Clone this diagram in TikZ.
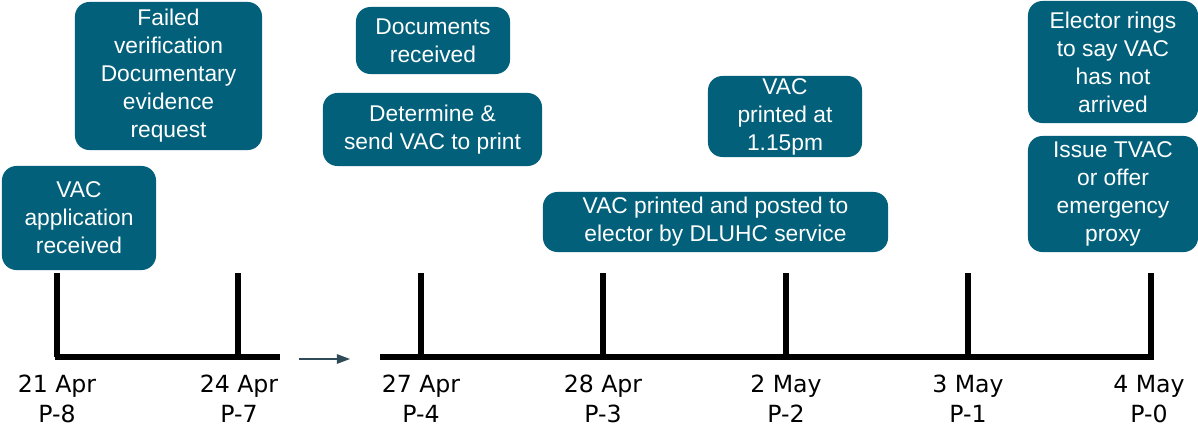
\documentclass[tikz,border=0pt]{standalone}
\usepackage{fontspec}
\usepackage{xcolor}
\setmainfont{Liberation Sans}
\newfontfamily\datefont{DejaVu Sans}
\usetikzlibrary{arrows.meta,positioning,calc}
\definecolor{vacteal}{HTML}{02607A}
\definecolor{arrowslate}{HTML}{2F4B58}

\begin{document}
\begin{tikzpicture}[x=0.025cm, y=-0.025cm,
    evbox/.style={rectangle, fill=vacteal, rounded corners=0.36cm, text=white, align=center,
      font=\fontsize{16.2}{19.9}\selectfont, inner sep=0pt},
    datelbl/.style={align=center, inner sep=0pt, font=\datefont\fontsize{16.8}{21.3}\selectfont},
    tline/.style={line width=0.13cm, line cap=butt}]

    \useasboundingbox (0,0) rectangle (1198,428);

    \node[evbox, minimum width=3.85cm, minimum height=2.6cm] (e1) at (79,218) {VAC\\application\\received};
    \node[evbox, minimum width=4.675cm, minimum height=3.7cm] (e2) at (168.5,76) {Failed\\verification\\Documentary\\evidence\\request};
    \node[evbox, minimum width=3.85cm, minimum height=1.675cm] (e3) at (433,40.5) {Documents\\received};
    \node[evbox, minimum width=5.475cm, minimum height=1.825cm] (e4) at (432.5,129.5) {Determine \&\\send VAC to print};
    \node[evbox, minimum width=3.85cm, minimum height=2.025cm] (e5) at (785,116.5) {VAC\\printed at\\1.15pm};
    \node[evbox, minimum width=8.625cm, minimum height=1.5cm] (e6) at (715.5,222) {VAC printed and posted to\\elector by DLUHC service};
    \node[evbox, minimum width=4.25cm, minimum height=3.05cm] (e7) at (1113,62) {Elector rings\\to say VAC\\has not\\arrived};
    \node[evbox, minimum width=4.25cm, minimum height=2.9cm] (e8) at (1113,194) {Issue TVAC\\or offer\\emergency\\proxy};

    \coordinate (a0) at (54.5,357);
    \coordinate (a1) at (280,357);
    \coordinate (b0) at (380,357);
    \coordinate (b1) at (1153.5,357);

    \coordinate (d1) at (57,357);
    \coordinate (d2) at (238,357);
    \coordinate (d3) at (421,357);
    \coordinate (d4) at (603,357);
    \coordinate (d5) at (786,357);
    \coordinate (d6) at (968,357);
    \coordinate (d7) at (1151,357);

    \draw[tline] (a0) -- (a1);
    \draw[tline] (b0) -- (b1);
    \draw[tline] (d1) -- ++(0,-84);
    \draw[tline] (d2) -- ++(0,-84);
    \draw[tline] (d3) -- ++(0,-84);
    \draw[tline] (d4) -- ++(0,-84);
    \draw[tline] (d5) -- ++(0,-84);
    \draw[tline] (d6) -- ++(0,-84);
    \draw[tline] (d7) -- ++(0,-84);

    \coordinate (g0) at (299,359);
    \coordinate (g1) at (350,359);
    \draw[-{Triangle[length=0.33cm, width=0.24cm]}, arrowslate, line width=0.9pt] (g0) -- (g1);

    \node[datelbl] (l1) at (57,399) {21 Apr\\P-8};
    \node[datelbl] (l2) at (239,399) {24 Apr\\P-7};
    \node[datelbl] (l3) at (421,399) {27 Apr\\P-4};
    \node[datelbl] (l4) at (603,399) {28 Apr\\P-3};
    \node[datelbl] (l5) at (786,399) {2 May\\P-2};
    \node[datelbl] (l6) at (968,399) {3 May\\P-1};
    \node[datelbl] (l7) at (1149,399) {4 May\\P-0};

\end{tikzpicture}
\end{document}
